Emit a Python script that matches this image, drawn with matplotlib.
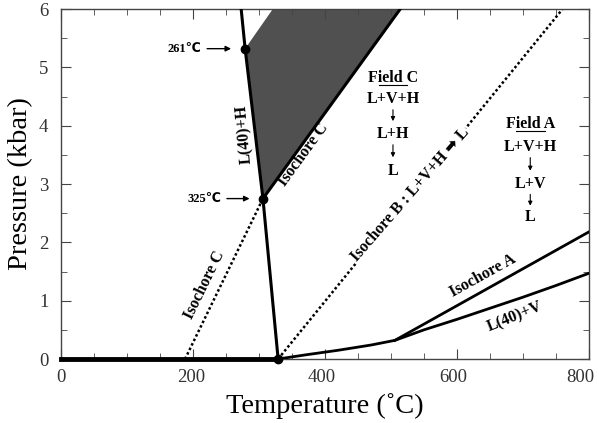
import matplotlib.pyplot as plt
from matplotlib.ticker import MultipleLocator
from matplotlib.transforms import blended_transform_factory, offset_copy

# phase boundaries and isochores (T in degC, P in kbar)
lh_T = [273, 279, 306, 329]
lh_P = [6.0, 5.32, 2.75, 0.0]
base_T = [0, 329]
base_P = [0, 0]
lv_T = [329, 370, 420, 470, 506, 550, 600, 650, 700, 750, 800]
lv_P = [0.0, 0.07, 0.15, 0.24, 0.32, 0.5, 0.68, 0.87, 1.06, 1.26, 1.47]
isoA_T = [506, 800]
isoA_P = [0.32, 2.18]
isoB_T = [329, 760]
isoB_P = [0.0, 6.0]
isoC_low_T = [188, 306]
isoC_low_P = [0.0, 2.75]
isoC_up_T = [306, 514]
isoC_up_P = [2.75, 6.0]
shade_T = [279, 321, 514, 306]
shade_P = [5.32, 6.0, 6.0, 2.75]
pts_T = [279, 306, 329]
pts_P = [5.32, 2.75, 0.0]
xticks = [0, 200, 400, 600, 800]
xtick_shift = [0, -2, -3, -4, -9]  # labels sit a bit left of their ticks in the original

serif = ['Liberation Serif', 'DejaVu Sans']
plt.rcParams['font.family'] = serif

fig = plt.figure(figsize=(5.99, 4.23), dpi=100)
ax = fig.add_axes([0.1018, 0.1513, 0.8815, 0.8274])

ax.fill(shade_T, shade_P, facecolor='#505050', edgecolor='none', zorder=1)
ax.plot(lh_T, lh_P, color='black', lw=2.2, zorder=3)
ax.plot(base_T, base_P, color='black', lw=3.5, zorder=3, clip_on=False)
ax.plot(lv_T, lv_P, color='black', lw=2.0, zorder=3)
ax.plot(isoA_T, isoA_P, color='black', lw=2.0, zorder=3)
ax.plot(isoC_up_T, isoC_up_P, color='black', lw=2.2, zorder=3)
ax.plot(isoB_T, isoB_P, color='black', lw=1.8, ls=(0, (1, 1)), zorder=2)
ax.plot(isoC_low_T, isoC_low_P, color='black', lw=1.8, ls=(0, (1, 1)), zorder=2)
ax.plot(pts_T, pts_P, 'o', color='black', ms=6, zorder=4, clip_on=False)

arr = dict(arrowstyle='-|>', color='black', lw=1, mutation_scale=8)
ax.annotate('261℃', xy=(262, 5.32), xytext=(213, 5.32), fontsize=9, fontweight='bold',
            ha='right', va='center', arrowprops=arr)
ax.annotate('325℃', xy=(290, 2.75), xytext=(243, 2.75), fontsize=9, fontweight='bold',
            ha='right', va='center', arrowprops=arr)

bold = dict(fontweight='bold', ha='center', va='center', fontsize=11.5)
ax.text(278, 3.85, 'L(40)+H', rotation=95, **bold)
ax.text(368, 3.5, 'Isochore C', rotation=54, **bold)
ax.text(218, 1.27, 'Isochore C', rotation=64, **bold)
ax.text(529, 2.82, 'Isochore B : L+V+H ➡ L', rotation=49,
        bbox=dict(facecolor='white', edgecolor='none', pad=0.5), zorder=5, **bold)
ax.text(639, 1.42, 'Isochore A', rotation=29, **bold)
ax.text(688, 0.72, 'L(40)+V', rotation=22, **bold)

# field annotations
ax.text(503, 4.81, 'Field C', **bold)
ax.plot([482, 524], [4.69, 4.69], color='black', lw=0.8)
ax.text(503, 4.46, 'L+V+H', **bold)
ax.text(503, 3.86, 'L+H', **bold)
ax.text(503, 3.23, 'L', **bold)
ax.text(711, 4.03, 'Field A', **bold)
ax.plot([689, 733], [3.91, 3.91], color='black', lw=0.8)
ax.text(711, 3.64, 'L+V+H', **bold)
ax.text(711, 3.0, 'L+V', **bold)
ax.text(711, 2.43, 'L', **bold)
small = dict(arrowstyle='-|>', color='black', lw=0.8, mutation_scale=6)
for x, y0, y1 in [(503, 4.32, 4.03), (503, 3.72, 3.41), (711, 3.5, 3.18), (711, 2.87, 2.58)]:
    ax.annotate('', xy=(x, y1), xytext=(x, y0), arrowprops=small)

ax.set_xlim(0, 800)
ax.set_ylim(0, 6)
ax.set_xticks(xticks)
ax.xaxis.set_minor_locator(MultipleLocator(50))
ax.yaxis.set_major_locator(MultipleLocator(1))
ax.yaxis.set_minor_locator(MultipleLocator(0.5))
ax.tick_params(which='both', direction='in', top=True, right=True, labelsize=13.5,
               color='#444444', labelcolor='#333333')
ax.tick_params(which='major', length=7)
ax.tick_params(which='minor', length=4)
ax.tick_params(axis='x', labelbottom=False)
ax.tick_params(axis='y', pad=9)
for s in ax.spines.values():
    s.set_color('#444444')
    s.set_linewidth(1)

trans = blended_transform_factory(ax.transData, ax.transAxes)
for v, dx in zip(xticks, xtick_shift):
    ax.text(v, 0, str(v), fontsize=13.5, color='#333333', ha='center', va='top',
            transform=offset_copy(trans, fig=fig, x=dx, y=-10, units='dots'))

ax.set_xlabel('Temperature (\u02daC)', fontsize=20.5, labelpad=21)
ax.set_ylabel('Pressure (kbar)', fontsize=20.5, labelpad=4)

fig.savefig('out.png', dpi=100)
